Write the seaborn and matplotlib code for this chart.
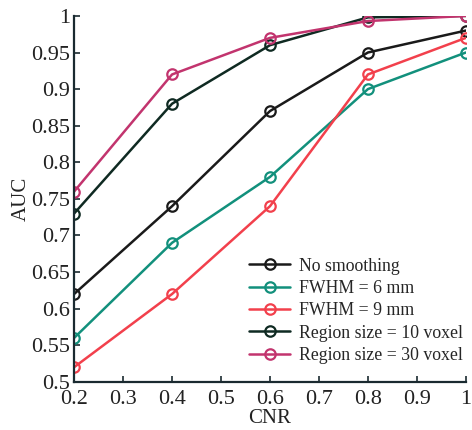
import numpy as np
import pandas as pd
import seaborn as sns
import matplotlib.pyplot as plt

# data
cnr = [0.2, 0.4, 0.6, 0.8, 1.0]
no_smoothing = [0.62, 0.74, 0.87, 0.95, 0.98]
fwhm6 = [0.56, 0.69, 0.78, 0.90, 0.95]
fwhm9 = [0.52, 0.62, 0.74, 0.92, 0.97]
region10 = [0.73, 0.88, 0.96, 0.998, 1.0]
region30 = [0.76, 0.92, 0.97, 0.993, 1.0]

labels = ['No smoothing', 'FWHM = 6 mm', 'FWHM = 9 mm',
          'Region size = 10 voxel', 'Region size = 30 voxel']
colors = ['#1a1a1a', '#12907c', '#f2404c', '#0f2a22', '#c2346e']
series = [no_smoothing, fwhm6, fwhm9, region10, region30]

sns.set_style('ticks')
plt.rcParams['font.family'] = ['Liberation Serif', 'DejaVu Serif']

fig = plt.figure(figsize=(4.72, 4.30), dpi=100)
ax = fig.add_axes([0.157, 0.112, 0.830, 0.851])

for lab, col, vals in zip(labels, colors, series):
    sns.lineplot(x=cnr, y=vals, ax=ax, color=col, lw=1.8, marker='o', ms=7.5,
                 mfc='none', mec=col, mew=1.6, label=lab)

ax.set_xlim(0.2, 1.0)
ax.set_ylim(0.5, 1.0)
ax.set_xticks(np.arange(0.2, 1.01, 0.1))
ax.set_xticklabels(['0.2', '0.3', '0.4', '0.5', '0.6', '0.7', '0.8', '0.9', '1'])
ax.set_yticks(np.arange(0.5, 1.001, 0.05))
ax.set_yticklabels(['0.5', '0.55', '0.6', '0.65', '0.7', '0.75', '0.8',
                    '0.85', '0.9', '0.95', '1'])
ax.tick_params(direction='in', labelsize=16, length=4, width=1.2, colors='#1a2a30',
               labelcolor='#222222')
ax.tick_params(axis='x', pad=6)
ax.tick_params(axis='y', pad=3)
for s in ['left', 'bottom']:
    ax.spines[s].set_linewidth(1.6)
    ax.spines[s].set_color('#1a2a30')
sns.despine(ax=ax)

ax.set_xlabel('CNR', fontsize=15, labelpad=0, color='#222222')
ax.set_ylabel('AUC', fontsize=15, labelpad=0, color='#222222')

ax.legend(loc='lower right', bbox_to_anchor=(1.02, 0.02), frameon=False,
          fontsize=12.8, handlelength=2.3, handletextpad=0.5, labelspacing=0.3,
          borderaxespad=0.2)

fig.savefig('out.png', dpi=100)
